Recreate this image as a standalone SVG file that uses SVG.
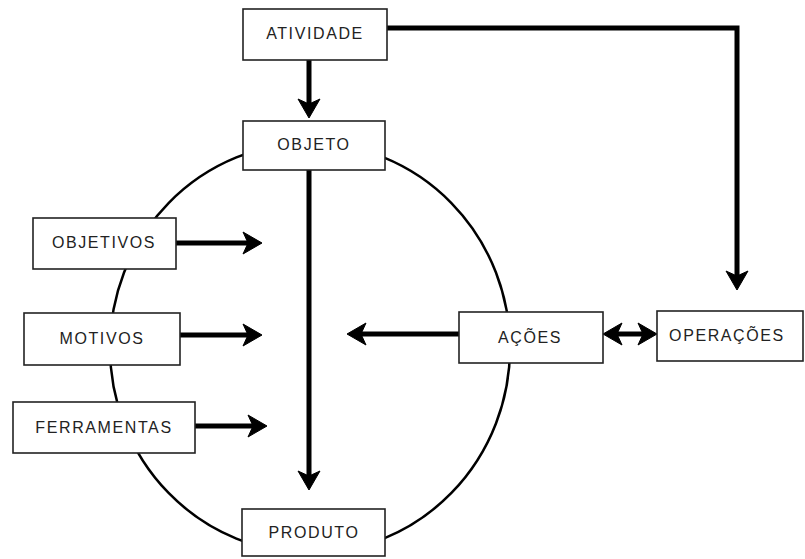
<svg xmlns="http://www.w3.org/2000/svg" width="805" height="559" viewBox="0 0 805 559">
<style>
.box{fill:#fff;stroke:#222;stroke-width:1.6}
.lbl{font-family:"Liberation Sans",Arial,sans-serif;font-size:16px;letter-spacing:1.6px;fill:#222;text-anchor:middle}
.con{fill:none;stroke:#000;stroke-width:5}
.ring{fill:none;stroke:#000;stroke-width:2.5}
</style>
<defs>
<marker id="ah" markerUnits="userSpaceOnUse" markerWidth="30" markerHeight="30" refX="-13" refY="0" orient="auto-start-reverse" overflow="visible">
<path d="M0,0 L-19,-11 L-14,0 L-19,11 Z" fill="#000" stroke="#000" stroke-width="1" stroke-linejoin="round"/>
</marker>
</defs>
<rect width="805" height="559" fill="#fff"/>
<ellipse class="ring" cx="310" cy="348" rx="200" ry="205"/>
<g id="connectors">
<path class="con" d="M309,60 V105" marker-end="url(#ah)"/>
<path class="con" d="M387,28 H737 V277" marker-end="url(#ah)"/>
<path class="con" d="M309,170 V477" marker-end="url(#ah)"/>
<path class="con" d="M176,243 H249" marker-end="url(#ah)"/>
<path class="con" d="M180,335 H249" marker-end="url(#ah)"/>
<path class="con" d="M195,426 H254" marker-end="url(#ah)"/>
<path class="con" d="M459,334 H360" marker-end="url(#ah)"/>
<path class="con" d="M616,334 H644" marker-start="url(#ah)" marker-end="url(#ah)"/>
</g>
<g id="atividade"><rect class="box" x="243" y="9" width="144" height="51"/><text class="lbl" x="315" y="39">ATIVIDADE</text></g>
<g id="objeto"><rect class="box" x="243" y="121" width="142" height="49"/><text class="lbl" x="314" y="150">OBJETO</text></g>
<g id="objetivos"><rect class="box" x="33" y="218" width="143" height="51"/><text class="lbl" x="104" y="248">OBJETIVOS</text></g>
<g id="motivos"><rect class="box" x="24" y="313" width="156" height="52"/><text class="lbl" x="102" y="344">MOTIVOS</text></g>
<g id="ferramentas"><rect class="box" x="13" y="402" width="182" height="51"/><text class="lbl" x="104" y="433">FERRAMENTAS</text></g>
<g id="acoes"><rect class="box" x="459" y="312" width="144" height="51"/><text class="lbl" x="530" y="343">AÇÕES</text></g>
<g id="operacoes"><rect class="box" x="657" y="311" width="146" height="50"/><text class="lbl" x="727" y="341">OPERAÇÕES</text></g>
<g id="produto"><rect class="box" x="242" y="509" width="143" height="47"/><text class="lbl" x="314" y="538">PRODUTO</text></g>
</svg>
